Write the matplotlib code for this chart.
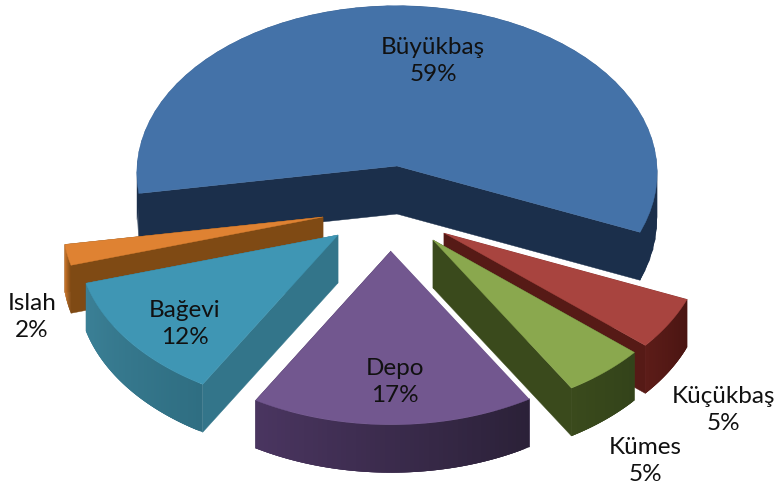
import numpy as np
import matplotlib
matplotlib.use("Agg")
import matplotlib.pyplot as plt
from matplotlib.colors import to_rgb

plt.rcParams["font.family"] = ["Lato", "DejaVu Sans"]

# dilim sirasi: saat yonunde, Kucukbas'tan baslar
labels = ["Küçükbaş", "Kümes", "Depo", "Bağevi", "Islah", "Büyükbaş"]
values = [5, 5, 17, 12, 2, 59]

# gorunum (piksel)
START = -23
RX, RY = 260, 167
PERSP = 0.04
DEPTH = 48
apex_x = [444, 433, 391, 338, 323, 397]
apex_y = [233, 240, 251, 235, 217, 166]
top_col = ["#a8443f", "#8aa84e", "#72578f", "#3f96b4", "#df8232", "#4472a8"]
cut_col = ["#561a16", "#3a4a1c", "#3a2a50", "#33758a", "#7f4a14", "#1b2f4b"]
rim_a = ["#4a1512", "#33431a", "#2b2138", "#2f6e82", "#7f4a14", "#1b2f4b"]
rim_b = ["#5c1c18", "#3a4a1c", "#4a3560", "#3b8096", "#d07a2e", "#1b2f4b"]
text_x = [723, 645, 395, 185, 32, 433]
text_y = [410, 461, 382, 324, 317, 61]
draw_order = [5, 4, 0, 1, 3, 2]
white_edge = [0, 2]  # ust kenarinda ince beyaz cizgi olan dilimler


def rim(i, t):
    s = 1 - PERSP * np.sin(t)
    return apex_x[i] + RX * np.cos(t) * s, apex_y[i] - RY * np.sin(t) * s


fig = plt.figure(figsize=(7.77, 4.88), dpi=100)
ax = fig.add_axes([0, 0, 1, 1])
ax.set_xlim(0, 777)
ax.set_ylim(488, 0)
ax.axis("off")

ends = START - 360 * np.cumsum(values) / sum(values)
starts = np.r_[START, ends[:-1]]

for i in draw_order:
    t = np.radians(np.linspace(starts[i], ends[i], 60))
    x, y = rim(i, t)
    ax0, ay0 = apex_x[i], apex_y[i]
    # kesit yuzleri
    for cx, cy in [(x[0], y[0]), (x[-1], y[-1])]:
        ax.fill([ax0, cx, cx, ax0], [ay0, cy, cy + DEPTH, ay0 + DEPTH],
                color=cut_col[i], lw=0.3)
    # dis kenar, parca parca renk gecisi (ust uste binerek, cizgi kalmasin)
    ca, cb = np.array(to_rgb(rim_a[i])), np.array(to_rgb(rim_b[i]))
    for k in range(len(t) - 1):
        c = ca + (cb - ca) * k / (len(t) - 2)
        e = min(k + 3, len(t) - 1)
        ax.fill([x[k], x[e], x[e], x[k]],
                [y[k], y[e], y[e] + DEPTH, y[k] + DEPTH], color=c, lw=0)
    ax.fill(np.r_[ax0, x], np.r_[ay0, y], color=top_col[i], lw=0.3)
    if i in white_edge:
        ax.plot([ax0, x[0]], [ay0 - 1, y[0] - 1], color="white", lw=1.0, solid_capstyle="butt")
    ax.text(text_x[i], text_y[i], f"{labels[i]}\n{values[i]}%", ha="center", va="center",
            fontsize=17.5, color="#111111", linespacing=1.3, zorder=5)

fig.savefig("out.png", dpi=100)
